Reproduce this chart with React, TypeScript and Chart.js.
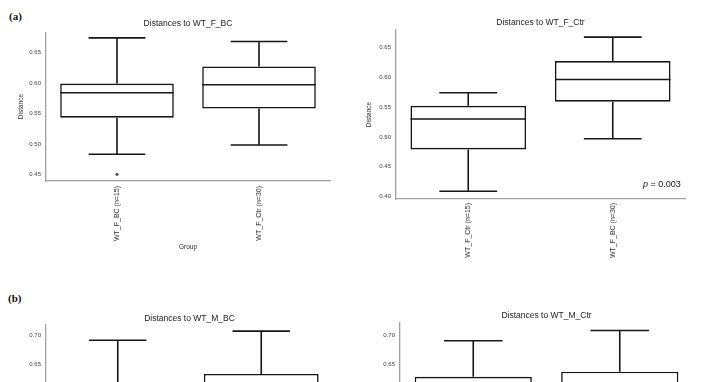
import React, { useEffect, useRef } from "react";
import { Chart, registerables } from "chart.js";

Chart.register(...registerables);

// ---------- data ----------
// (a) left: Distances to WT_F_BC
const aLeftTitle = "Distances to WT_F_BC";
const aLeftGroups = ["WT_F_BC (n=15)", "WT_F_Ctr (n=30)"];
const aLeftMin = [0.483, 0.498];
const aLeftQ1 = [0.543, 0.558];
const aLeftMedian = [0.584, 0.597];
const aLeftQ3 = [0.599, 0.627];
const aLeftMax = [0.674, 0.668];
const aLeftOutliers = [[0.45], []];
const aLeftTicks = [0.45, 0.5, 0.55, 0.6, 0.65];

// (a) right: Distances to WT_F_Ctr
const aRightTitle = "Distances to WT_F_Ctr";
const aRightGroups = ["WT_F_Ctr (n=15)", "WT_F_BC (n=30)"];
const aRightMin = [0.409, 0.497];
const aRightQ1 = [0.479, 0.559];
const aRightMedian = [0.53, 0.596];
const aRightQ3 = [0.552, 0.627];
const aRightMax = [0.574, 0.667];
const aRightOutliers = [[], []];
const aRightTicks = [0.4, 0.45, 0.5, 0.55, 0.6, 0.65];
const aRightPValue = "0.003";

// (b) left: Distances to WT_M_BC
const bLeftTitle = "Distances to WT_M_BC";
const bLeftGroups = ["WT_M_BC (n=15)", "WT_M_Ctr (n=30)"];
const bLeftMin = [0.48, 0.5];
const bLeftQ1 = [0.55, 0.56];
const bLeftMedian = [0.58, 0.6];
const bLeftQ3 = [0.61, 0.633];
const bLeftMax = [0.692, 0.708];
const bLeftOutliers = [[], []];
const bLeftTicks = [0.45, 0.5, 0.55, 0.6, 0.65, 0.7];

// (b) right: Distances to WT_M_Ctr
const bRightTitle = "Distances to WT_M_Ctr";
const bRightGroups = ["WT_M_Ctr (n=15)", "WT_M_BC (n=30)"];
const bRightMin = [0.48, 0.5];
const bRightQ1 = [0.55, 0.56];
const bRightMedian = [0.59, 0.6];
const bRightQ3 = [0.628, 0.637];
const bRightMax = [0.691, 0.709];
const bRightOutliers = [[], []];
const bRightTicks = [0.45, 0.5, 0.55, 0.6, 0.65, 0.7];

// ---------- component ----------
type Stats = {
  min: number[];
  q1: number[];
  median: number[];
  q3: number[];
  max: number[];
  outliers: number[][];
};

type PanelProps = {
  title: string;
  groups: string[];
  stats: Stats;
  ticks: number[];
  yMin: number;
  yMax: number;
  left: number;
  top: number;
  width: number;
  height: number;
  yAxisWidth: number;
  xAxisHeight: number;
  titlePadTop: number;
  titlePadBottom: number;
  yTitlePad: number;
  xLabelPad: number;
  xTitle?: string;
};

const INK = "#161616";
const AXIS = "#a0a0a0";
const LINE_W = 1.6;
const FONT = "'Liberation Sans', Arial, sans-serif";

function BoxPanel(p: PanelProps) {
  const ref = useRef<HTMLCanvasElement | null>(null);
  useEffect(() => {
    if (!ref.current) return;
    const s = p.stats;
    const whiskerPlugin = {
      id: "boxWhiskers",
      afterDatasetsDraw(chart: any) {
        const { ctx } = chart;
        const x = chart.scales.x;
        const y = chart.scales.y;
        const meta = chart.getDatasetMeta(0);
        ctx.save();
        ctx.strokeStyle = INK;
        ctx.lineWidth = LINE_W;
        meta.data.forEach((bar: any, i: number) => {
          const props = bar.getProps(["x", "width"], true);
          const cx = x.getPixelForValue(i);
          const half = props.width / 2;
          const cap = half / 2;
          const yq1 = y.getPixelForValue(s.q1[i]);
          const yq3 = y.getPixelForValue(s.q3[i]);
          const ymed = y.getPixelForValue(s.median[i]);
          const ylo = y.getPixelForValue(s.min[i]);
          const yhi = y.getPixelForValue(s.max[i]);
          ctx.beginPath();
          ctx.moveTo(cx, yq3);
          ctx.lineTo(cx, yhi);
          ctx.moveTo(cx - cap, yhi);
          ctx.lineTo(cx + cap, yhi);
          ctx.moveTo(cx, yq1);
          ctx.lineTo(cx, ylo);
          ctx.moveTo(cx - cap, ylo);
          ctx.lineTo(cx + cap, ylo);
          ctx.moveTo(props.x - half, ymed);
          ctx.lineTo(props.x + half, ymed);
          ctx.stroke();
          (s.outliers[i] || []).forEach((v) => {
            const oy = y.getPixelForValue(v);
            ctx.beginPath();
            ctx.arc(cx, oy, 1.6, 0, Math.PI * 2);
            ctx.fillStyle = "#555";
            ctx.fill();
          });
        });
        ctx.restore();
      },
    };

    const chart = new Chart(ref.current, {
      type: "bar",
      data: {
        labels: p.groups,
        datasets: [
          {
            data: s.q1.map((v, i) => [v, s.q3[i]]) as any,
            backgroundColor: "#ffffff",
            borderColor: INK,
            borderWidth: LINE_W,
            borderSkipped: false,
            barPercentage: 1,
            categoryPercentage: 0.8,
          },
        ],
      },
      options: {
        animation: false,
        responsive: false,
        devicePixelRatio: 1,
        layout: { padding: { left: 0, right: 5, top: 0, bottom: 0 } },
        plugins: {
          legend: { display: false },
          tooltip: { enabled: false },
          title: {
            display: true,
            text: p.title,
            fullSize: false,
            color: "#1a1a1a",
            font: { family: FONT, size: 8.5, weight: "normal" },
            padding: { top: p.titlePadTop, bottom: p.titlePadBottom },
          },
        },
        scales: {
          x: {
            grid: { display: false, drawTicks: false },
            border: { display: true, color: AXIS, width: 1.3 },
            ticks: {
              minRotation: 90,
              maxRotation: 90,
              padding: p.xLabelPad,
              color: "#2a2a2a",
              font: { family: FONT, size: 7 },
            },
            title: {
              display: !!p.xTitle,
              text: p.xTitle || "",
              color: "#2a2a2a",
              font: { family: FONT, size: 6.5 },
              padding: { top: 0, bottom: 19 },
            },
            afterFit: (scale: any) => {
              scale.height = p.xAxisHeight;
            },
          },
          y: {
            min: p.yMin,
            max: p.yMax,
            grid: { display: false, drawTicks: false },
            border: { display: true, color: AXIS, width: 1.3 },
            ticks: {
              padding: 5,
              color: "#3a3a3a",
              font: { family: FONT, size: 6 },
              callback: (v: any) => Number(v).toFixed(2),
            },
            afterBuildTicks: (axis: any) => {
              axis.ticks = p.ticks.map((v) => ({ value: v }));
            },
            title: {
              display: true,
              text: "Distance",
              color: "#2a2a2a",
              font: { family: FONT, size: 6.5 },
              padding: { top: p.yTitlePad, bottom: 0 },
            },
            afterFit: (scale: any) => {
              scale.width = p.yAxisWidth;
            },
          },
        },
      } as any,
      plugins: [whiskerPlugin],
    });
    return () => chart.destroy();
  }, []);

  return (
    <canvas
      ref={ref}
      width={p.width}
      height={p.height}
      style={{
        position: "absolute",
        left: p.left,
        top: p.top,
        width: p.width,
        height: p.height,
      }}
    />
  );
}

const labelStyle: React.CSSProperties = {
  position: "absolute",
  fontFamily: "'Liberation Serif', 'Times New Roman', serif",
  fontWeight: "bold",
  fontSize: 11,
  color: "#111",
  lineHeight: "12px",
};

export default function App() {
  return (
    <div
      style={{
        position: "fixed",
        left: 0,
        top: 0,
        width: 712,
        height: 382,
        overflow: "hidden",
        background: "#fff",
      }}
    >
      <div style={{ ...labelStyle, left: 9, top: 10 }}>(a)</div>
      <div style={{ ...labelStyle, left: 8, top: 292 }}>(b)</div>

      <BoxPanel
        title={aLeftTitle}
        groups={aLeftGroups}
        stats={{
          min: aLeftMin,
          q1: aLeftQ1,
          median: aLeftMedian,
          q3: aLeftQ3,
          max: aLeftMax,
          outliers: aLeftOutliers,
        }}
        ticks={aLeftTicks}
        yMin={0.439}
        yMax={0.6833}
        left={0}
        top={0}
        width={335}
        height={270}
        yAxisWidth={46}
        xAxisHeight={89}
        titlePadTop={19}
        titlePadBottom={3}
        yTitlePad={17}
        xLabelPad={5}
        xTitle="Group"
      />

      <BoxPanel
        title={aRightTitle}
        groups={aRightGroups}
        stats={{
          min: aRightMin,
          q1: aRightQ1,
          median: aRightMedian,
          q3: aRightQ3,
          max: aRightMax,
          outliers: aRightOutliers,
        }}
        ticks={aRightTicks}
        yMin={0.396}
        yMax={0.679}
        left={350}
        top={0}
        width={340}
        height={270}
        yAxisWidth={46}
        xAxisHeight={71}
        titlePadTop={17.6}
        titlePadBottom={2.2}
        yTitlePad={15}
        xLabelPad={4}
      />
      <div
        style={{
          position: "absolute",
          left: 643,
          top: 178,
          fontFamily: FONT,
          fontSize: 9,
          color: "#111",
          lineHeight: "12px",
          whiteSpace: "nowrap",
        }}
      >
        <i>p</i> = {aRightPValue}
      </div>

      <BoxPanel
        title={bLeftTitle}
        groups={bLeftGroups}
        stats={{
          min: bLeftMin,
          q1: bLeftQ1,
          median: bLeftMedian,
          q3: bLeftQ3,
          max: bLeftMax,
          outliers: bLeftOutliers,
        }}
        ticks={bLeftTicks}
        yMin={0.4}
        yMax={0.7187}
        left={0}
        top={300}
        width={338}
        height={300}
        yAxisWidth={46}
        xAxisHeight={93}
        titlePadTop={13.2}
        titlePadBottom={1.6}
        yTitlePad={17}
        xLabelPad={5}
        xTitle="Group"
      />

      <BoxPanel
        title={bRightTitle}
        groups={bRightGroups}
        stats={{
          min: bRightMin,
          q1: bRightQ1,
          median: bRightMedian,
          q3: bRightQ3,
          max: bRightMax,
          outliers: bRightOutliers,
        }}
        ticks={bRightTicks}
        yMin={0.4}
        yMax={0.7234}
        left={354}
        top={300}
        width={344}
        height={300}
        yAxisWidth={46}
        xAxisHeight={93}
        titlePadTop={10.6}
        titlePadBottom={1.5}
        yTitlePad={15}
        xLabelPad={5}
        xTitle="Group"
      />
    </div>
  );
}
